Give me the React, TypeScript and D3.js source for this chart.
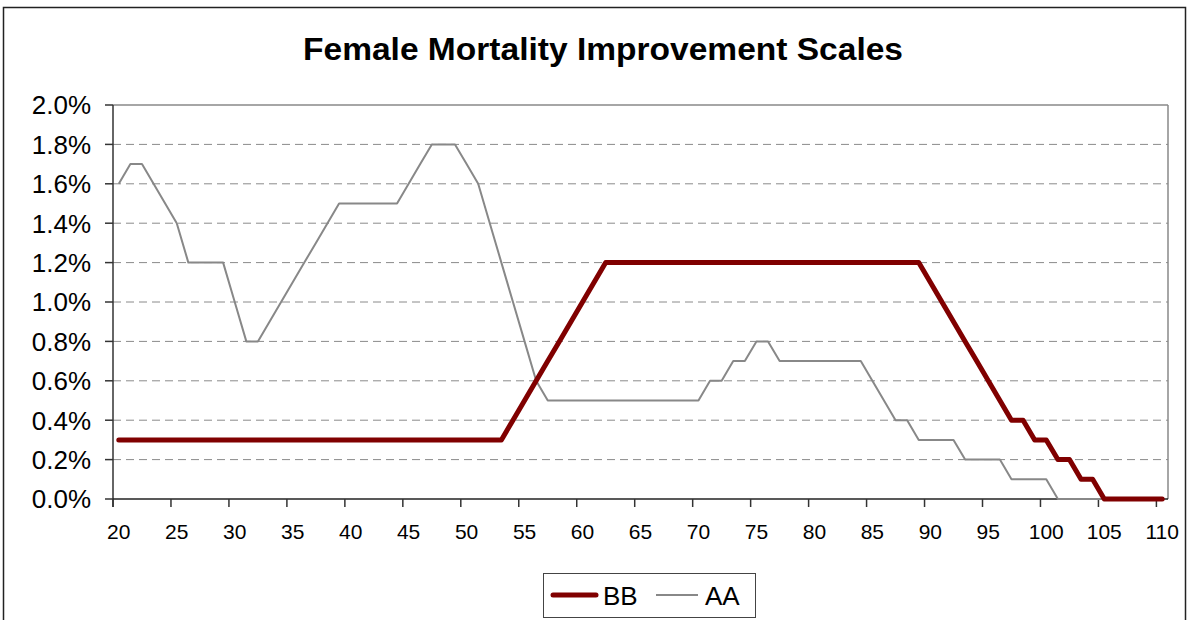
import React from 'react';
import * as d3 from 'd3';

// ages 20..110
const ages = d3.range(20, 111);

// improvement scale BB (percent)
const bb = [
  0.3, 0.3, 0.3, 0.3, 0.3, 0.3, 0.3, 0.3, 0.3, 0.3, // 20-29
  0.3, 0.3, 0.3, 0.3, 0.3, 0.3, 0.3, 0.3, 0.3, 0.3, // 30-39
  0.3, 0.3, 0.3, 0.3, 0.3, 0.3, 0.3, 0.3, 0.3, 0.3, // 40-49
  0.3, 0.3, 0.3, 0.3, 0.4, 0.5, 0.6, 0.7, 0.8, 0.9, // 50-59
  1.0, 1.1, 1.2, 1.2, 1.2, 1.2, 1.2, 1.2, 1.2, 1.2, // 60-69
  1.2, 1.2, 1.2, 1.2, 1.2, 1.2, 1.2, 1.2, 1.2, 1.2, // 70-79
  1.2, 1.2, 1.2, 1.2, 1.2, 1.2, 1.2, 1.2, 1.2, 1.2, // 80-89
  1.1, 1.0, 0.9, 0.8, 0.7, 0.6, 0.5, 0.4, 0.4, 0.3, // 90-99
  0.3, 0.2, 0.2, 0.1, 0.1, 0.0, 0.0, 0.0, 0.0, 0.0, // 100-109
  0.0, // 110
];

// improvement scale AA (percent)
const aa = [
  1.6, 1.7, 1.7, 1.6, 1.5, 1.4, 1.2, 1.2, 1.2, 1.2, // 20-29
  1.0, 0.8, 0.8, 0.9, 1.0, 1.1, 1.2, 1.3, 1.4, 1.5, // 30-39
  1.5, 1.5, 1.5, 1.5, 1.5, 1.6, 1.7, 1.8, 1.8, 1.8, // 40-49
  1.7, 1.6, 1.4, 1.2, 1.0, 0.8, 0.6, 0.5, 0.5, 0.5, // 50-59
  0.5, 0.5, 0.5, 0.5, 0.5, 0.5, 0.5, 0.5, 0.5, 0.5, // 60-69
  0.5, 0.6, 0.6, 0.7, 0.7, 0.8, 0.8, 0.7, 0.7, 0.7, // 70-79
  0.7, 0.7, 0.7, 0.7, 0.7, 0.6, 0.5, 0.4, 0.4, 0.3, // 80-89
  0.3, 0.3, 0.3, 0.2, 0.2, 0.2, 0.2, 0.1, 0.1, 0.1, // 90-99
  0.1, 0.0, 0.0, 0.0, 0.0, 0.0, 0.0, 0.0, 0.0, 0.0, // 100-109
  0.0, // 110
];

const yTicks = [0, 0.2, 0.4, 0.6, 0.8, 1.0, 1.2, 1.4, 1.6, 1.8, 2.0];
const xLabels = d3.range(20, 111, 5);

const App = () => {
  const width = 1190;
  const height = 620;
  const plot = { left: 113, right: 1168, top: 105, bottom: 499 };

  const x = d3.scaleBand<number>()
    .domain(ages)
    .range([plot.left, plot.right])
    .padding(0);
  const bw = x.bandwidth();
  const cx = (a: number) => (x(a) as number) + bw / 2;

  const y = d3.scaleLinear()
    .domain([0, 2.0])
    .range([plot.bottom, plot.top]);

  const line = d3.line<number>()
    .x((_, i) => cx(ages[i]))
    .y(v => y(v));

  const font = 'Arial, "Liberation Sans", sans-serif';

  return (
    <svg width={width} height={height} style={{ position: 'absolute', left: 0, top: 0, background: '#fff' }}>
      {/* outer chart border */}
      <rect x={3.5} y={7.5} width={1182} height={640} fill="#fff" stroke="#222" strokeWidth={1.5} />

      <text x={603} y={60} textAnchor="middle" fontFamily={font} fontWeight="bold" fontSize={32}
        textLength={600} lengthAdjust="spacingAndGlyphs">
        Female Mortality Improvement Scales
      </text>

      {/* gridlines */}
      {yTicks.slice(1, -1).map(t => (
        <line key={t} x1={plot.left} x2={plot.right} y1={y(t)} y2={y(t)}
          stroke="#8a8a8a" strokeWidth={1} strokeDasharray="8,5" />
      ))}

      {/* plot border (top/right) */}
      <line x1={plot.left} x2={plot.right} y1={plot.top} y2={plot.top} stroke="#888" strokeWidth={1.5} />
      <line x1={plot.right} x2={plot.right} y1={plot.top} y2={plot.bottom} stroke="#888" strokeWidth={1.5} />

      {/* y axis */}
      <line x1={plot.left} x2={plot.left} y1={plot.top} y2={plot.bottom + 8} stroke="#333" strokeWidth={1.5} />
      {yTicks.map(t => (
        <g key={t}>
          <line x1={plot.left - 8} x2={plot.left} y1={y(t)} y2={y(t)} stroke="#333" strokeWidth={1.5} />
          <text x={91} y={y(t)} dy="0.36em" textAnchor="end" fontFamily={font} fontSize={26}>
            {t.toFixed(1)}%
          </text>
        </g>
      ))}

      {/* x axis */}
      <line x1={plot.left} x2={plot.right} y1={plot.bottom} y2={plot.bottom} stroke="#222" strokeWidth={1.5} />
      {xLabels.map(a => (
        <g key={a}>
          <line x1={x(a) as number} x2={x(a) as number} y1={plot.bottom} y2={plot.bottom + 8}
            stroke="#333" strokeWidth={1.5} />
          <text x={cx(a)} y={539} textAnchor="middle" fontFamily={font} fontSize={21}>{a}</text>
        </g>
      ))}

      {/* series */}
      <path d={line(aa) || ''} fill="none" stroke="#888" strokeWidth={2} strokeLinejoin="round" />
      <path d={line(bb) || ''} fill="none" stroke="#800000" strokeWidth={5} strokeLinejoin="round" strokeLinecap="round" />

      {/* legend */}
      <rect x={543.5} y={573.5} width={212} height={44} fill="#fff" stroke="#444" strokeWidth={1} />
      <line x1={553} x2={596} y1={595} y2={595} stroke="#800000" strokeWidth={5} strokeLinecap="round" />
      <text x={603} y={605} fontFamily={font} fontSize={26}>BB</text>
      <line x1={656} x2={698} y1={595} y2={595} stroke="#888" strokeWidth={2} />
      <text x={705} y={605} fontFamily={font} fontSize={26}>AA</text>
    </svg>
  );
};

export default App;
